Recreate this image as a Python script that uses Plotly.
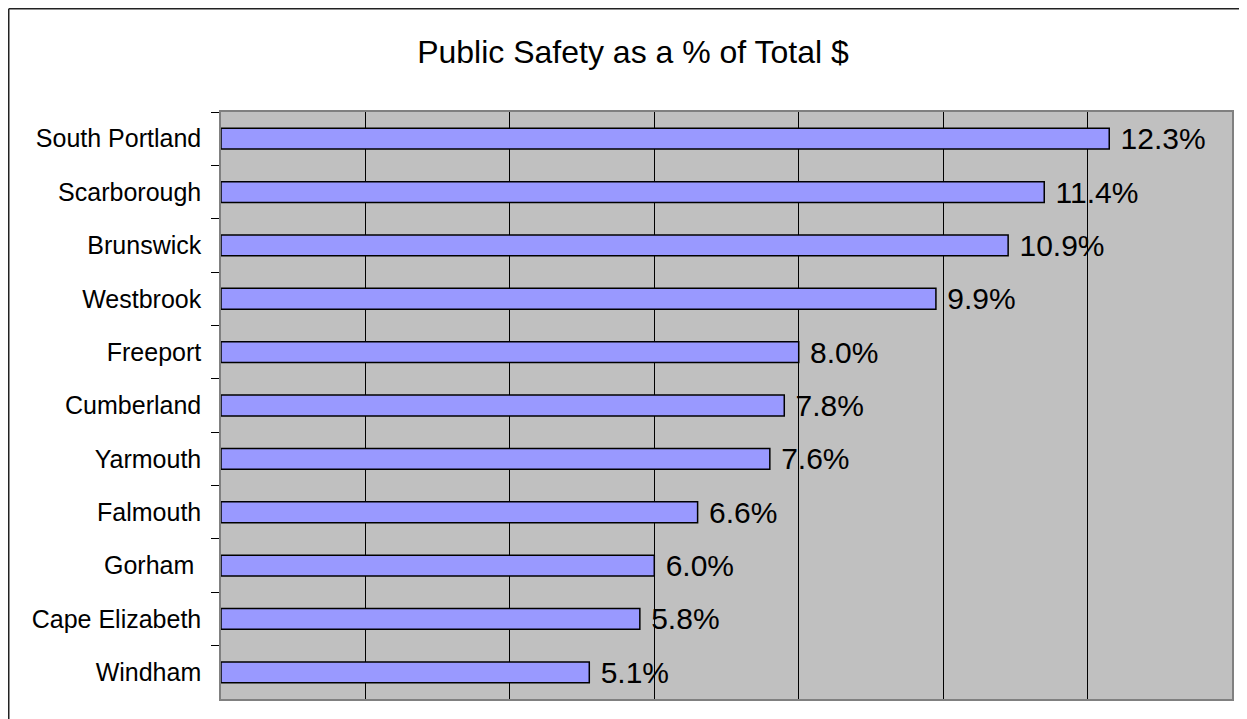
import plotly.graph_objects as go

# adatok (felülről lefelé)
towns = ['South Portland', 'Scarborough', 'Brunswick', 'Westbrook', 'Freeport',
         'Cumberland', 'Yarmouth', 'Falmouth', 'Gorham\u00a0', 'Cape Elizabeth', 'Windham']
pct = [12.3, 11.4, 10.9, 9.9, 8.0, 7.8, 7.6, 6.6, 6.0, 5.8, 5.1]

FONT = 'Arial, Liberation Sans, sans-serif'

fig = go.Figure(go.Bar(
    x=pct,
    y=towns,
    orientation='h',
    width=0.39,
    marker=dict(color='#9999FF', line=dict(color='black', width=1.5)),
    texttemplate='\u00a0%{x:.1f}%',
    textposition='outside',
    constraintext='none',
    textfont=dict(family=FONT, size=30, color='black'),
    cliponaxis=False,
    hoverinfo='y+x'
))

# az oldal 8px-es body margója miatt minden koordináta 8px-szel el van tolva
OFF = 8
W, H = 1247 - OFF, 719 - OFF
# plot terület az oldalon: x 221..1232, y 112..699
L, R, T, B = 221 - OFF, 1232 - OFF, 112 - OFF, 699 - OFF

fig.update_layout(
    width=W, height=H,
    margin=dict(l=L, r=W - R, t=T, b=H - B, pad=0),
    paper_bgcolor='white',
    plot_bgcolor='#C0C0C0',
    showlegend=False,
    title=dict(text='Public Safety as a % of Total $', x=(633 - OFF) / W, xref='container',
               xanchor='center', y=1 - (52 - OFF) / H, yanchor='middle',
               font=dict(family=FONT, size=32, color='black')),
    font=dict(family=FONT, color='black'),
    xaxis=dict(range=[0, 14], dtick=2, showticklabels=False, showgrid=True,
               gridcolor='black', gridwidth=1, zeroline=False, ticks='',
               showline=True, linecolor='#808080', linewidth=1.5, mirror=True,
               fixedrange=True),
    yaxis=dict(autorange='reversed', showgrid=False, ticks='outside',
               tickson='boundaries', ticklen=8, tickcolor='black', tickwidth=1,
               tickfont=dict(family=FONT, size=25, color='black'),
               ticklabelstandoff=13,
               showline=True, linecolor='#808080', linewidth=1.5, mirror=True,
               fixedrange=True),
)

# külső keret (csak bal és felső oldal látszik)
px0 = (0.75 - L) / (R - L)
py1 = (B - 0.75) / (B - T)
fig.add_shape(type='line', xref='paper', yref='paper', x0=px0, x1=px0, y0=-0.2, y1=py1,
              line=dict(color='#222', width=1.5))
fig.add_shape(type='line', xref='paper', yref='paper', x0=px0, x1=1.2, y0=py1, y1=py1,
              line=dict(color='#222', width=1.5))

fig.write_html('out.html')
